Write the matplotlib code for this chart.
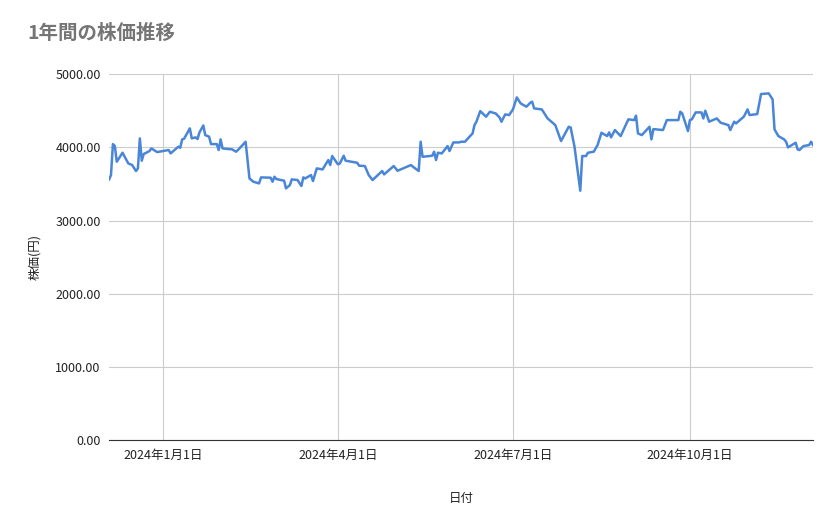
import numpy as np
import pandas as pd
import matplotlib.pyplot as plt
import matplotlib.dates as mdates
from matplotlib.ticker import FuncFormatter

plt.rcParams['font.family'] = ['Noto Sans CJK JP', 'DejaVu Sans']

START = pd.Timestamp('2023-12-04')

# 日数（開始日からの経過日数）と株価（円）
day_offsets = [0, 1, 2, 3, 4, 7, 10, 12, 14, 15, 16, 17, 18, 21, 22, 25, 31, 32, 36, 37,
               38, 39, 42, 43, 45, 46, 47, 49, 50, 52, 53, 56, 57, 58, 59, 64, 66, 67, 71, 73,
               75, 78, 79, 84, 85, 86, 87, 91, 92, 94, 95, 98, 100, 101, 102, 105, 106, 108, 111, 114,
               115, 116, 119, 120, 122, 123, 129, 130, 133, 135, 137, 142, 143, 148, 150, 155, 157, 158, 161, 162,
               163, 168, 169, 170, 171, 173, 176, 177, 179, 182, 183, 185, 189, 190, 191, 193, 196, 198, 201, 203,
               204, 206, 208, 210, 212, 214, 217, 219, 220, 221, 225, 228, 232, 235, 239, 240, 242, 245, 246, 248,
               249, 252, 254, 256, 259, 260, 261, 263, 266, 270, 273, 274, 275, 277, 281, 282, 283, 288, 290, 296,
               297, 298, 301, 302, 303, 305, 308, 309, 310, 312, 316, 318, 322, 323, 325, 326, 330, 332, 333, 337,
               339, 343, 345, 346, 348, 351, 352, 353, 357, 358, 359, 361, 364, 365, 366]
prices = [3563, 3622, 4045, 4018, 3804, 3927, 3781, 3759, 3677, 3713, 4123, 3818, 3909, 3950, 3986, 3936, 3964, 3918, 4009, 3995,
          4109, 4118, 4260, 4123, 4137, 4114, 4205, 4300, 4168, 4146, 4045, 4045, 3964, 4109, 3986, 3973, 3941, 3964, 4077, 3576,
          3531, 3508, 3590, 3586, 3531, 3599, 3567, 3545, 3440, 3485, 3563, 3554, 3472, 3590, 3576, 3622, 3540, 3713, 3699, 3827,
          3759, 3882, 3768, 3781, 3886, 3818, 3790, 3750, 3745, 3622, 3554, 3677, 3631, 3745, 3681, 3736, 3759, 3736, 3677, 4077,
          3872, 3886, 3941, 3827, 3927, 3918, 4018, 3950, 4068, 4068, 4077, 4077, 4191, 4305, 4351, 4496, 4419, 4487, 4464, 4410,
          4351, 4451, 4442, 4519, 4683, 4601, 4556, 4610, 4624, 4533, 4519, 4396, 4305, 4087, 4282, 4273, 4009, 3408, 3882, 3882,
          3927, 3941, 4032, 4200, 4155, 4205, 4137, 4237, 4155, 4383, 4373, 4433, 4191, 4168, 4282, 4109, 4250, 4237, 4373, 4373,
          4487, 4464, 4223, 4373, 4383, 4478, 4478, 4396, 4501, 4351, 4396, 4337, 4305, 4237, 4351, 4328, 4419, 4519, 4442, 4455,
          4729, 4738, 4656, 4246, 4155, 4109, 4077, 4000, 4064, 3973, 3964, 4018, 4032, 4077, 4032]

tick_dates = ['2024-01-01', '2024-04-01', '2024-07-01', '2024-10-01']
tick_labels = ['2024年1月1日', '2024年4月1日', '2024年7月1日', '2024年10月1日']

dates = START + pd.to_timedelta(day_offsets, unit='D')

fig = plt.figure(figsize=(8.39, 5.19), dpi=100)
ax = fig.add_axes([0.130, 0.152, 0.839, 0.705])

ax.plot(dates, prices, color='#4a86d8', lw=1.8)

ax.set_xlim(dates[0], dates[-1])
ax.set_ylim(0, 5000)
ax.set_yticks(np.arange(0, 5001, 1000))
ax.yaxis.set_major_formatter(FuncFormatter(lambda v, p: f'{v:.2f}'))
ax.set_xticks(pd.to_datetime(tick_dates))
ax.set_xticklabels(tick_labels)

ax.grid(True, color='#cccccc', lw=0.8)
ax.set_axisbelow(True)
for s in ['top', 'right', 'left']:
    ax.spines[s].set_visible(False)
ax.spines['bottom'].set_color('#333333')
ax.tick_params(length=0, labelsize=9, colors='#222222', pad=6)

ax.set_xlabel('日付', fontsize=9, labelpad=22, color='#222222')
ax.set_ylabel('株価(円)', fontsize=9, labelpad=10, color='#222222')
fig.text(0.033, 0.925, '1年間の株価推移', fontsize=14, color='#757575', fontweight='bold')

fig.savefig('out.png', dpi=100)
